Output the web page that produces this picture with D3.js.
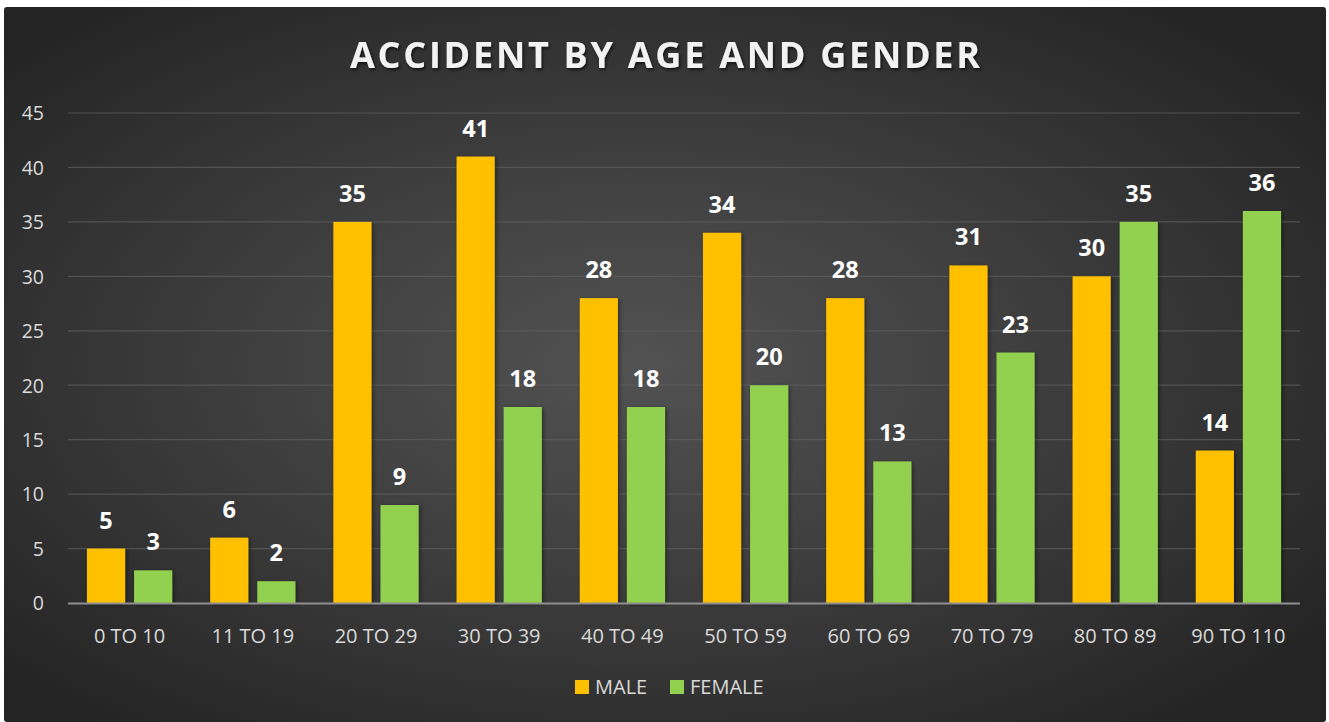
<!DOCTYPE html>
<html>
<head>
<meta charset="utf-8">
<script src="https://cdn.jsdelivr.net/npm/d3@7"></script>
<style>
  html, body { margin: 0; padding: 0; background: #ffffff; }
  svg { display: block; }
</style>
</head>
<body>
<svg id="chart" width="1329" height="722"></svg>
<script>
const categories = ["0 TO 10", "11 TO 19", "20 TO 29", "30 TO 39", "40 TO 49", "50 TO 59", "60 TO 69", "70 TO 79", "80 TO 89", "90 TO 110"];
const seriesNames = ["MALE", "FEMALE"];
const maleValues = [5, 6, 35, 41, 28, 34, 28, 31, 30, 14];
const femaleValues = [3, 2, 9, 18, 18, 20, 13, 23, 35, 36];
const yTicks = [0, 5, 10, 15, 20, 25, 30, 35, 40, 45];
const seriesColors = ["#FFC000", "#92D050"];
const titleText = "ACCIDENT BY AGE AND GENDER";

const values = [maleValues, femaleValues];
const rows = categories.map((c, i) => ({ cat: c, vals: seriesNames.map((s, j) => ({ s, j, v: values[j][i] })) }));

const svg = d3.select("#chart");
const defs = svg.append("defs");

const grad = defs.append("radialGradient").attr("id", "bg")
  .attr("cx", "48%").attr("cy", "50%").attr("r", "65%");
grad.append("stop").attr("offset", "0%").attr("stop-color", "#525252");
grad.append("stop").attr("offset", "40%").attr("stop-color", "#414141");
grad.append("stop").attr("offset", "100%").attr("stop-color", "#242424");

const shadow = defs.append("filter").attr("id", "shadow").attr("x", "-20%").attr("y", "-20%").attr("width", "150%").attr("height", "150%");
shadow.append("feDropShadow").attr("dx", 1.5).attr("dy", 1.5).attr("stdDeviation", 2).attr("flood-color", "#000").attr("flood-opacity", 0.45);

const tshadow = defs.append("filter").attr("id", "tshadow").attr("x", "-10%").attr("y", "-30%").attr("width", "120%").attr("height", "160%");
tshadow.append("feDropShadow").attr("dx", 1.5).attr("dy", 2).attr("stdDeviation", 1.5).attr("flood-color", "#000").attr("flood-opacity", 0.6);

// chart background
svg.append("rect").attr("x", 4).attr("y", 7).attr("width", 1322).attr("height", 715)
  .attr("rx", 3).attr("fill", "url(#bg)");

const plot = { left: 68, right: 1300, top: 113, bottom: 603 };

const x0 = d3.scaleBand().domain(categories).range([plot.left, plot.right]).padding(0);
const bw = x0.bandwidth();
const x1 = d3.scaleBand().domain(seriesNames).range([bw * 0.154, bw * 0.846]).paddingInner(0.19);
const y = d3.scaleLinear().domain([0, 45]).range([plot.bottom, plot.top]);

// gridlines
svg.append("g").selectAll("line").data(yTicks.filter(t => t > 0)).join("line")
  .attr("x1", plot.left).attr("x2", plot.right)
  .attr("y1", d => y(d)).attr("y2", d => y(d))
  .attr("stroke", "#5e5e5e").attr("stroke-opacity", 0.75).attr("stroke-width", 1.2);

// y axis
const yAxis = d3.axisLeft(y).tickValues(yTicks).tickSize(0).tickPadding(0);
const yg = svg.append("g").attr("transform", `translate(44,0)`).call(yAxis);
yg.select(".domain").remove();
yg.selectAll("text").attr("fill", "#d9d9d9").attr("font-family", "'Open Sans', sans-serif")
  .attr("font-size", 19.5).attr("dy", "0.35em");

// bars
const groups = svg.append("g").selectAll("g").data(rows).join("g")
  .attr("transform", d => `translate(${x0(d.cat)},0)`);

groups.selectAll("rect").data(d => d.vals).join("rect")
  .attr("x", d => x1(d.s)).attr("width", x1.bandwidth())
  .attr("y", d => y(d.v)).attr("height", d => y(0) - y(d.v))
  .attr("fill", d => seriesColors[d.j])
  .attr("filter", "url(#shadow)");

groups.selectAll("text").data(d => d.vals).join("text")
  .attr("x", d => x1(d.s) + x1.bandwidth() / 2)
  .attr("y", d => y(d.v) - 20)
  .attr("text-anchor", "middle")
  .attr("fill", "#ffffff").attr("font-family", "'Open Sans', sans-serif")
  .attr("font-weight", 700).attr("font-size", 23.5)
  .text(d => d.v);

// x axis baseline
svg.append("line").attr("x1", plot.left).attr("x2", plot.right)
  .attr("y1", y(0) + 0.5).attr("y2", y(0) + 0.5)
  .attr("stroke", "#8f8f8f").attr("stroke-width", 2.2);

// x labels
const xAxis = d3.axisBottom(x0).tickSize(0).tickPadding(0);
const xg = svg.append("g").attr("transform", `translate(0,${y(0)})`).call(xAxis);
xg.select(".domain").remove();
xg.selectAll("text").attr("fill", "#d9d9d9").attr("font-family", "'Open Sans', sans-serif")
  .attr("font-size", 20).attr("y", 39.5).attr("dy", 0);

// title
svg.append("text").attr("x", 665).attr("y", 68).attr("text-anchor", "middle")
  .attr("fill", "#f2f2f2").attr("font-family", "'Open Sans', sans-serif")
  .attr("font-weight", 700).attr("font-size", 36)
  .attr("textLength", 630).attr("lengthAdjust", "spacing")
  .attr("filter", "url(#tshadow)")
  .text(titleText);

// legend
const legendX = [575, 670];
const lg = svg.append("g").selectAll("g").data(seriesNames).join("g")
  .attr("transform", (d, i) => `translate(${legendX[i]},680)`);
lg.append("rect").attr("width", 14).attr("height", 14).attr("fill", (d, i) => seriesColors[i]);
lg.append("text").attr("x", 20).attr("y", 14)
  .attr("fill", "#d9d9d9").attr("font-family", "'Open Sans', sans-serif").attr("font-size", 20)
  .text(d => d);
</script>
</body>
</html>
